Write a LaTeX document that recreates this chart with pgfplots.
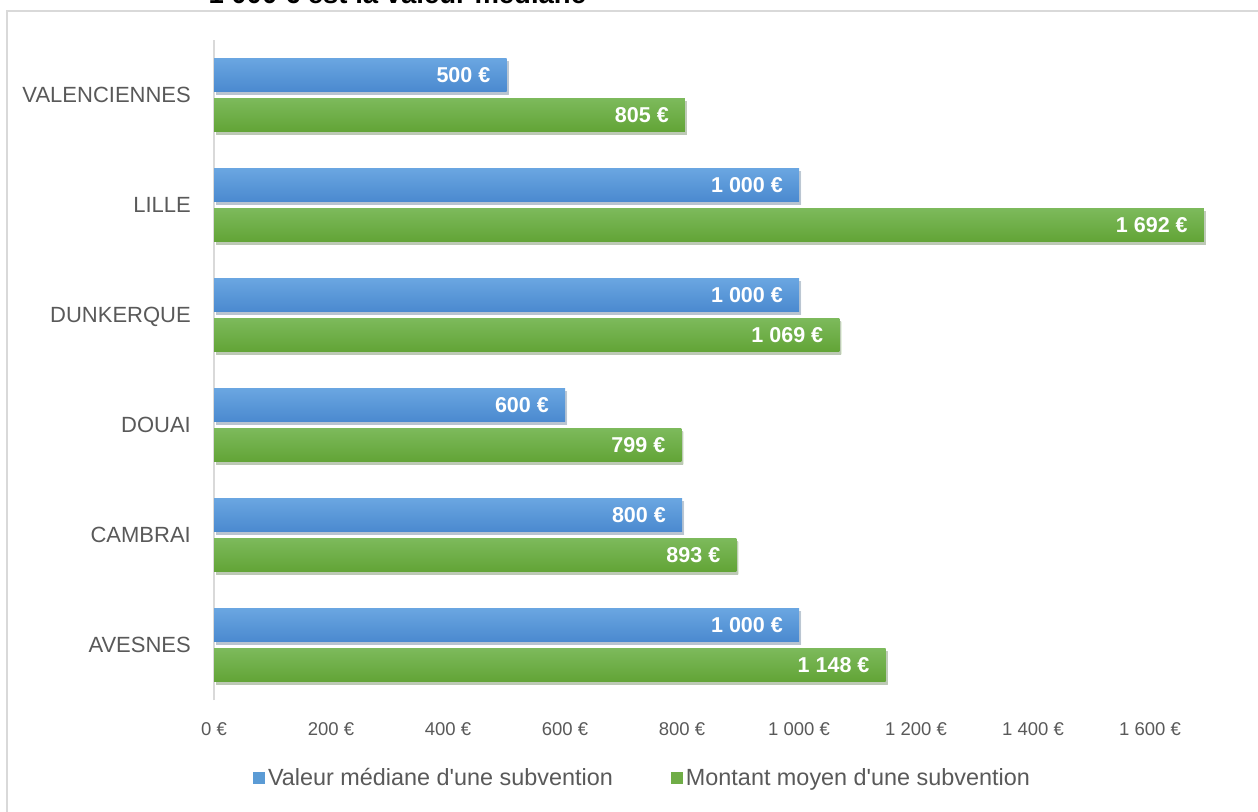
\documentclass[border=0pt]{standalone}
\usepackage{pgfplots}
\pgfplotsset{compat=1.18}
\usepackage{pgfplotstable}
\usepackage{fontspec}
\setmainfont{Liberation Sans}[Ligatures=TeXOff]

\definecolor{txt}{HTML}{595959}
\definecolor{framegray}{HTML}{D9D9D9}
\definecolor{bluetop}{HTML}{6AA6E1}
\definecolor{bluebot}{HTML}{4A89CF}
\definecolor{bluemid}{HTML}{5B9BD5}
\definecolor{greentop}{HTML}{7DBA5C}
\definecolor{greenbot}{HTML}{62A436}
\definecolor{greenmid}{HTML}{70AD47}

% idx 0 = AVESNES (bottom) ... 5 = VALENCIENNES (top)
\pgfplotstableread{
idx mediane moyen
0 1000 1148
1 800 893
2 600 799
3 1000 1069
4 1000 1692
5 500 805
}\subv

\begin{document}
\begin{tikzpicture}
\useasboundingbox (0,0) rectangle (1258bp,812bp);
\clip (0,0) rectangle (1258bp,812bp);
\draw[framegray, line width=1.5bp] (7bp,-5bp) -- (7bp,801bp) -- (1265bp,801bp);
\node[anchor=base west, font=\bfseries\fontsize{27.5bp}{32bp}\selectfont] at (205bp,808bp) {1 000 € est la valeur médiane};

\begin{axis}[
  at={(214bp,112bp)}, anchor=south west,
  scale only axis, width=1001bp, height=660bp,
  xmin=0, xmax=1711, ymin=-0.5, ymax=5.5,
  axis x line*=bottom, axis y line*=left,
  x axis line style={draw=none},
  y axis line style={draw=framegray, line width=1.5bp, -},
  major tick length=0pt,
  xtick={0,200,...,1600},
  ytick={0,...,5},
  yticklabels={AVESNES,CAMBRAI,DOUAI,DUNKERQUE,LILLE,VALENCIENNES},
  /pgf/number format/assume math mode=true,
  /pgf/number format/1000 sep={\ },
  xticklabel={\pgfmathprintnumber{\tick}~€},
  xticklabel style={font=\fontsize{18.5bp}{22bp}\selectfont, text=txt, anchor=base, yshift=-35bp},
  yticklabel style={font=\fontsize{22bp}{26bp}\selectfont, text=txt, anchor=base east, inner sep=0pt, xshift=-23bp, yshift=-7.8bp},
  every node near coord/.append style={anchor=east, xshift=-16bp, text=white, inner sep=0pt,
    font=\bfseries\fontsize{21.5bp}{25bp}\selectfont},
  legend style={at={(axis description cs:0.4286,-0.118)}, anchor=center, draw=none,
    legend columns=2, font=\fontsize{23.4bp}{27bp}\selectfont, text=txt,
    /tikz/every even column/.append style={column sep=55bp},
    nodes={inner sep=3bp}},
  legend image code/.code={\fill[#1] (0bp,-6bp) rectangle (12bp,6bp);},
]
% bars, one plot per category so that each bar gets its own gradient
\pgfplotsinvokeforeach{0,...,5}{
\addplot[xbar, forget plot, bar width=0.305, bar shift=0.18, draw=none,
  top color=bluetop, bottom color=bluebot, restrict y to domain=#1:#1,
  preaction={fill=black, opacity=0.18, transform canvas={xshift=2bp, yshift=-3bp}}]
  table[x=mediane, y=idx] {\subv};
\addplot[xbar, forget plot, bar width=0.305, bar shift=-0.18, draw=none,
  top color=greentop, bottom color=greenbot, restrict y to domain=#1:#1,
  preaction={fill=black, opacity=0.18, transform canvas={xshift=2bp, yshift=-3bp}}]
  table[x=moyen, y=idx] {\subv};
}
% value labels
\addplot[xbar, forget plot, bar width=0.305, bar shift=0.18, draw=none, fill=none,
  point meta=x, nodes near coords={\pgfmathprintnumber{\pgfplotspointmeta}~€},
  every node near coord/.append style={yshift=19.8bp}]
  table[x=mediane, y=idx] {\subv};
\addplot[xbar, forget plot, bar width=0.305, bar shift=-0.18, draw=none, fill=none,
  point meta=x, nodes near coords={\pgfmathprintnumber{\pgfplotspointmeta}~€},
  every node near coord/.append style={yshift=-19.8bp}]
  table[x=moyen, y=idx] {\subv};
% legend
\addlegendimage{fill=bluemid, draw=none}
\addlegendentry{Valeur médiane d'une subvention}
\addlegendimage{fill=greenmid, draw=none}
\addlegendentry{Montant moyen d'une subvention}
\end{axis}
\end{tikzpicture}
\end{document}
